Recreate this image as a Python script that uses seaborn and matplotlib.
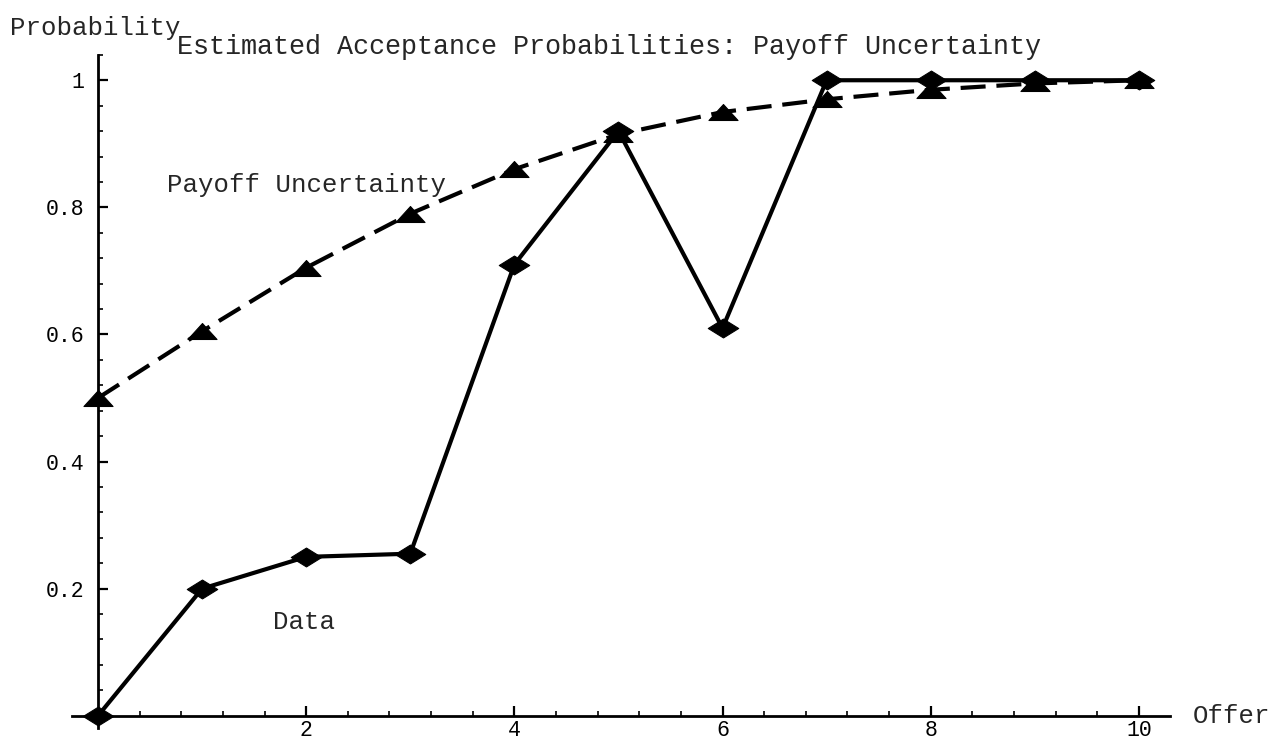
import numpy as np
import pandas as pd
import matplotlib
matplotlib.use("Agg")
import matplotlib.pyplot as plt
from matplotlib.path import Path
from matplotlib.ticker import MultipleLocator, FixedLocator
import seaborn as sns

# Offer amounts and acceptance probabilities
offers = [0, 1, 2, 3, 4, 5, 6, 7, 8, 9, 10]
data_prob = [0.0, 0.20, 0.25, 0.255, 0.71, 0.92, 0.61, 1.0, 1.0, 1.0, 1.0]
payoff_prob = [0.50, 0.605, 0.705, 0.79, 0.86, 0.915, 0.95, 0.97, 0.985, 0.995, 1.0]

x_ticks = [2, 4, 6, 8, 10]
y_ticks = [0.2, 0.4, 0.6, 0.8, 1.0]
y_tick_labels = ["0.2", "0.4", "0.6", "0.8", "1"]

sns.set_theme(style="white")
plt.rcParams["font.family"] = ["Liberation Mono", "DejaVu Sans Mono"]

fig = plt.figure(figsize=(12.74, 7.51), dpi=100)
ax = fig.add_axes([0.0565, 0.030, 0.862, 0.897])

df = pd.DataFrame({"offer": offers, "data": data_prob, "payoff": payoff_prob})

# flattened marker shapes
diamond = Path([(-1, 0), (0, 0.62), (1, 0), (0, -0.62), (-1, 0)],
               [Path.MOVETO, Path.LINETO, Path.LINETO, Path.LINETO, Path.CLOSEPOLY])
triangle = Path([(-1, -0.55), (0, 0.55), (1, -0.55), (-1, -0.55)],
                [Path.MOVETO, Path.LINETO, Path.LINETO, Path.CLOSEPOLY])

sns.lineplot(data=df, x="offer", y="payoff", ax=ax, color="black", lw=3,
             linestyle=(0, (6, 2.6)), marker=triangle, markersize=21,
             markeredgecolor="black", markerfacecolor="black", zorder=3)
sns.lineplot(data=df, x="offer", y="data", ax=ax, color="black", lw=3,
             linestyle="-", marker=diamond, markersize=22,
             markeredgecolor="black", markerfacecolor="black", zorder=4)

ax.set_xlim(-0.25, 10.3)
ax.set_ylim(-0.02, 1.04)

# axes crossing at the origin
for s in ["top", "right"]:
    ax.spines[s].set_visible(False)
ax.spines["left"].set_position(("data", 0))
ax.spines["bottom"].set_position(("data", 0))
for s in ["left", "bottom"]:
    ax.spines[s].set_color("black")
    ax.spines[s].set_linewidth(2.0)

ax.xaxis.set_major_locator(FixedLocator(x_ticks))
ax.xaxis.set_minor_locator(MultipleLocator(0.4))
ax.yaxis.set_major_locator(FixedLocator(y_ticks))
ax.set_yticklabels(y_tick_labels)
ax.yaxis.set_minor_locator(MultipleLocator(0.04))

ax.tick_params(axis="both", which="major", direction="in", length=7, width=1.6,
               color="black", labelsize=15.5, labelcolor="black")
ax.tick_params(axis="x", which="major", pad=3)
ax.tick_params(axis="y", which="major", pad=10)
ax.tick_params(axis="both", which="minor", direction="in", length=3.5, width=1.2,
               color="black")
ax.tick_params(axis="x", which="both", bottom=True)
ax.tick_params(axis="y", which="both", left=True)

ax.set_xlabel("")
ax.set_ylabel("")
ax.grid(False)

# axis names and series labels
fig.text(0.008, 0.963, "Probability", fontsize=18.5, ha="left", va="center")
fig.text(0.478, 0.938, "Estimated Acceptance Probabilities: Payoff Uncertainty",
         fontsize=19.3, ha="center", va="center")
ax.text(10.52, 0.0, "Offer", fontsize=18.5, ha="left", va="center", clip_on=False)
ax.text(0.66, 0.835, "Payoff Uncertainty", fontsize=18.5, ha="left", va="center")
ax.text(1.68, 0.148, "Data", fontsize=18.5, ha="left", va="center")

fig.savefig("out.png", dpi=100, facecolor="white")
